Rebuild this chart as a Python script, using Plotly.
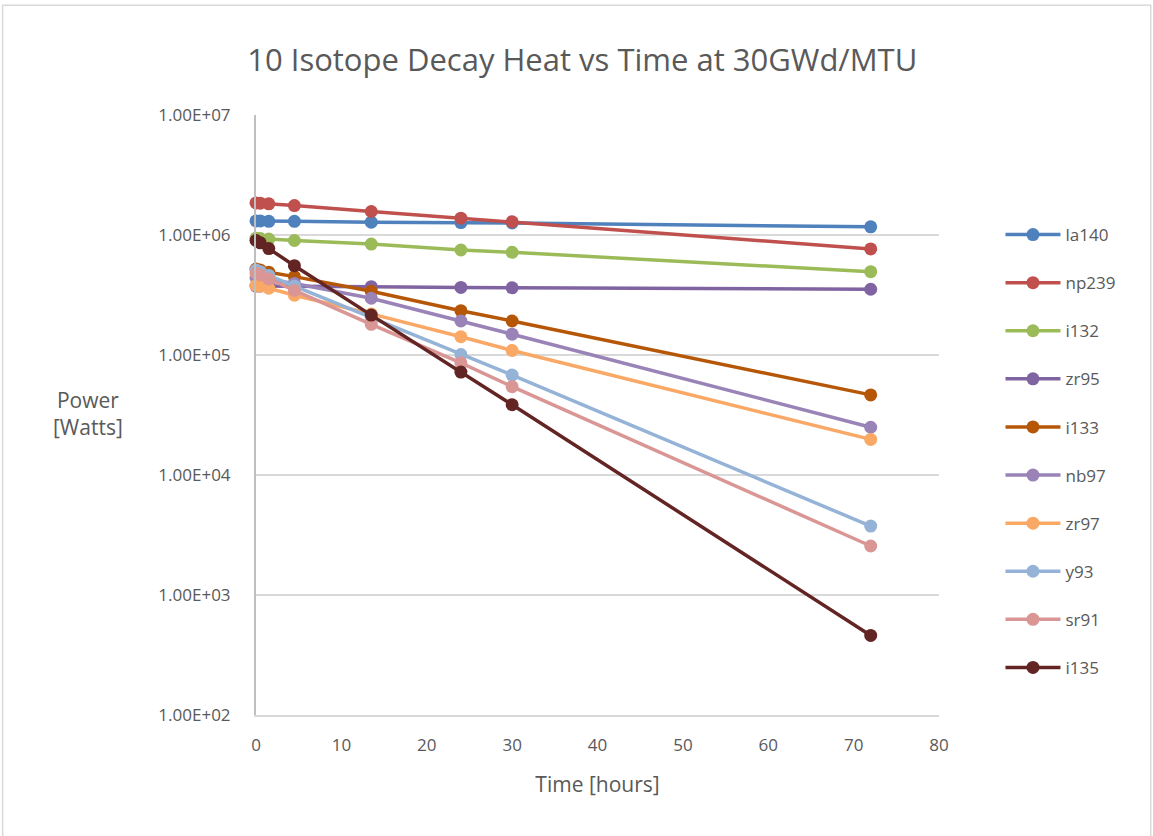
import plotly.graph_objects as go

time_hours = [0, 0.5, 1.5, 4.5, 13.5, 24, 30, 72]

series_names = ["la140", "np239", "i132", "zr95", "i133", "nb97", "zr97", "y93", "sr91", "i135"]

la140 = [1.31e6, 1.31e6, 1.30e6, 1.30e6, 1.28e6, 1.27e6, 1.26e6, 1.17e6]
np239 = [1.85e6, 1.84e6, 1.82e6, 1.76e6, 1.57e6, 1.38e6, 1.29e6, 7.65e5]
i132 = [9.4e5, 9.35e5, 9.25e5, 9.0e5, 8.4e5, 7.5e5, 7.17e5, 4.95e5]
zr95 = [3.75e5, 3.75e5, 3.74e5, 3.73e5, 3.71e5, 3.66e5, 3.63e5, 3.53e5]
i133 = [5.2e5, 5.1e5, 4.9e5, 4.5e5, 3.40e5, 2.34e5, 1.92e5, 4.65e4]
nb97 = [4.4e5, 4.35e5, 4.25e5, 3.95e5, 2.97e5, 1.92e5, 1.49e5, 2.5e4]
zr97 = [3.8e5, 3.75e5, 3.6e5, 3.15e5, 2.2e5, 1.42e5, 1.09e5, 1.98e4]
y93 = [5.1e5, 4.95e5, 4.6e5, 3.75e5, 2.05e5, 1.01e5, 6.8e4, 3.75e3]
sr91 = [4.8e5, 4.65e5, 4.3e5, 3.45e5, 1.80e5, 8.6e4, 5.45e4, 2.56e3]
i135 = [9.0e5, 8.6e5, 7.7e5, 5.55e5, 2.15e5, 7.2e4, 3.85e4, 4.6e2]

series_values = [la140, np239, i132, zr95, i133, nb97, zr97, y93, sr91, i135]
series_colors = ["#4F81BD", "#C0504D", "#9BBB59", "#8064A2", "#B65708",
                 "#9983B7", "#F9A865", "#95B3D7", "#D99694", "#632523"]

y_tick_vals = [1e2, 1e3, 1e4, 1e5, 1e6, 1e7]
y_tick_text = ["1.00E+02", "1.00E+03", "1.00E+04", "1.00E+05", "1.00E+06", "1.00E+07"]

font_family = "Open Sans, Noto Sans, sans-serif"
text_color = "#595959"

fig = go.Figure()
for name, vals, col in zip(series_names, series_values, series_colors):
    fig.add_trace(go.Scatter(
        x=time_hours, y=vals, name=name, mode="lines+markers",
        line=dict(color=col, width=3.5),
        marker=dict(color=col, size=13),
        cliponaxis=False,
        legendgroup=name,
    ))

fig.update_layout(
    width=1153, height=836,
    paper_bgcolor="white", plot_bgcolor="white",
    margin=dict(l=256, r=214, t=115, b=121),
    font=dict(family=font_family, color=text_color, size=17),
    title=dict(text="10 Isotope Decay Heat vs Time at 30GWd/MTU",
               x=0.505, xanchor="center", y=0.928, yanchor="middle",
               font=dict(size=31, color=text_color, family=font_family)),
    showlegend=True,
    legend=dict(x=1.09, xanchor="left", y=0.83, yanchor="top",
                font=dict(size=17, color=text_color),
                tracegroupgap=23, itemwidth=55, bgcolor="rgba(0,0,0,0)"),
    xaxis=dict(range=[0, 80], dtick=10, tick0=0, showgrid=False,
               showline=True, linecolor="#D9D9D9", linewidth=1.5,
               zeroline=False, ticks="", ticklabelstandoff=14,
               tickfont=dict(size=17, color=text_color),
               title=dict(text="Time [hours]", font=dict(size=21, color=text_color), standoff=22)),
    yaxis=dict(type="log", range=[2, 7], tickvals=y_tick_vals, ticktext=y_tick_text,
               showgrid=True, gridcolor="#D9D9D9", gridwidth=1.5,
               showline=True, linecolor="#BFBFBF", linewidth=2,
               zeroline=False, ticks="", ticklabelstandoff=20,
               tickfont=dict(size=17, color=text_color)),
    annotations=[dict(text="Power<br>[Watts]", xref="paper", yref="paper",
                      x=-0.246, y=0.503, xanchor="center", yanchor="middle",
                      showarrow=False, align="center",
                      font=dict(size=21, color=text_color))],
    shapes=[dict(type="rect", xref="paper", yref="paper",
                 x0=-0.371, x1=1.31, y0=-0.205, y1=1.183,
                 line=dict(color="#D9D9D9", width=1.5), fillcolor="rgba(0,0,0,0)",
                 layer="below")],
)

fig.write_html("out.html")
